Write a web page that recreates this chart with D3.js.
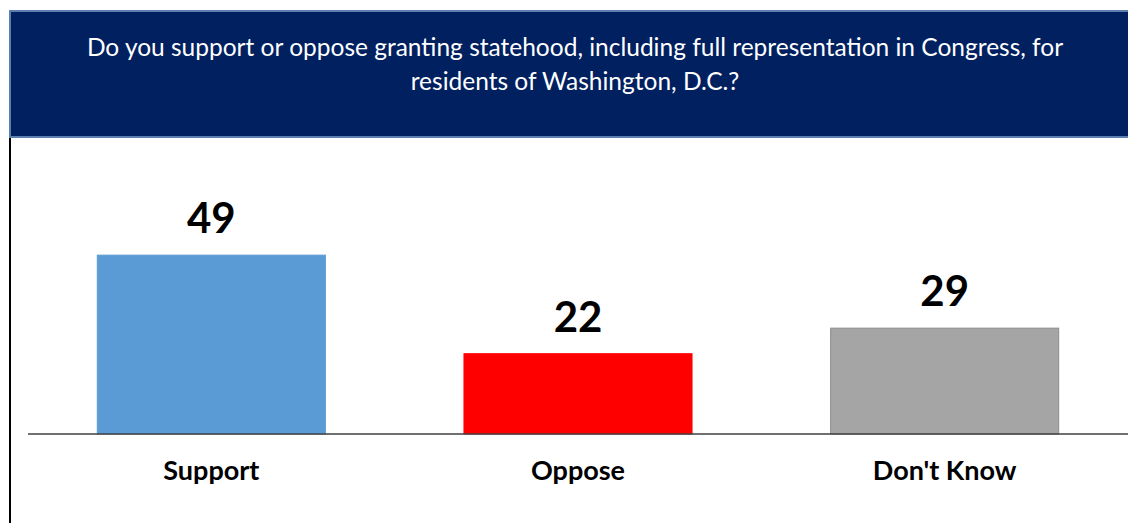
<!DOCTYPE html>
<html>
<head>
<meta charset="utf-8">
<script src="https://cdn.jsdelivr.net/npm/d3@7"></script>
<style>
body{margin:0;background:#fff;}
text{font-family:Lato,'Open Sans',sans-serif;}
</style>
</head>
<body>
<svg class="graph"></svg>
<script>
let W=1128,H=523
let categories=['Support','Oppose',"Don't Know"]
let values=[49,22,29]
let colors=['#5b9bd5','#ff0000','#a5a5a5']
let strokes=['#5b9bd5','#ff0000','#8c8c8c']
let titleLines=['Do you support or oppose granting statehood, including full representation in Congress, for','residents of Washington, D.C.?']

let svg=d3.select('.graph').attr('width',W).attr('height',H)

// header box
svg.append('rect')
   .attr('x',10).attr('y',11)
   .attr('width',W).attr('height',126)
   .attr('fill','#002060')
   .attr('stroke','#5b7fae')
   .attr('stroke-width',2)

svg.selectAll('.title')
   .data(titleLines)
   .join('text')
   .attr('class','title')
   .attr('x',575)
   .attr('y',(d,i)=>56+i*34)
   .attr('text-anchor','middle')
   .attr('fill','#fff')
   .style('font-size','24.5px')
   .text(d=>d)

// left frame line
svg.append('line')
   .attr('x1',10).attr('x2',10)
   .attr('y1',138).attr('y2',H)
   .attr('stroke','#000').attr('stroke-width',2)

let xscale=d3.scaleBand().domain(categories).range([28,1128])
             .paddingInner(0.378).paddingOuter(0.189)
let yscale=d3.scaleLinear().domain([0,60]).range([434,215])

svg.selectAll('.bar')
   .data(values)
   .join('rect')
   .attr('class','bar')
   .attr('x',(d,i)=>xscale(categories[i]))
   .attr('y',d=>yscale(d))
   .attr('width',xscale.bandwidth())
   .attr('height',d=>yscale(0)-yscale(d))
   .attr('fill',(d,i)=>colors[i])
   .attr('stroke',(d,i)=>strokes[i])
   .attr('stroke-width',1)

// baseline
svg.append('line')
   .attr('x1',28).attr('x2',1128)
   .attr('y1',yscale(0)).attr('y2',yscale(0))
   .attr('stroke','#404040').attr('stroke-width',1.5)

svg.selectAll('.vlabel')
   .data(values)
   .join('text')
   .attr('class','vlabel')
   .attr('x',(d,i)=>xscale(categories[i])+xscale.bandwidth()/2)
   .attr('y',d=>yscale(d)-22)
   .attr('text-anchor','middle')
   .style('font-size','42px')
   .style('font-weight','bold')
   .text(d=>d)

let xaxis=svg.append('g').attr('transform',`translate(0,${yscale(0)})`)
   .call(d3.axisBottom(xscale).tickSize(0).tickPadding(0))
xaxis.select('.domain').remove()
xaxis.selectAll('text')
   .attr('y',46)
   .attr('dy',0)
   .attr('fill','#000')
   .style('font-size','27px')
   .style('font-weight','bold')
   .style('font-family',"Lato,'Open Sans',sans-serif")
</script>
</body>
</html>
